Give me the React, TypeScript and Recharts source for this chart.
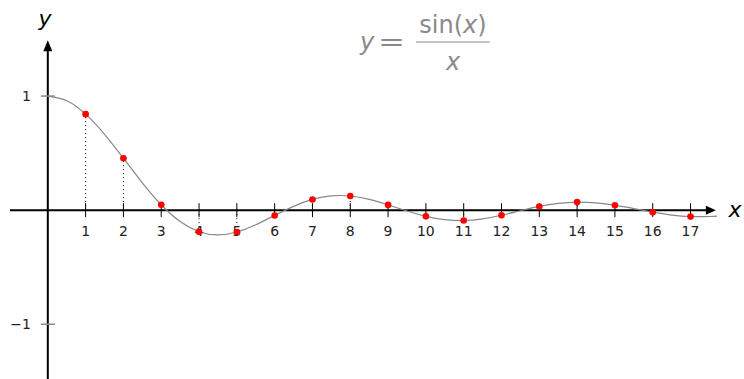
import {
    ComposedChart,
    Line,
    Scatter,
    XAxis,
    YAxis,
    ReferenceLine,
    ReferenceDot,
    Customized,
} from "recharts";

// samples of y = sin(x)/x
const curveX = [
    0, 0.5, 1, 1.5, 2, 2.5, 3, 3.5, 4, 4.5, 5, 5.5, 6, 6.5, 7, 7.5, 8, 8.5,
    9, 9.5, 10, 10.5, 11, 11.5, 12, 12.5, 13, 13.5, 14, 14.5, 15, 15.5, 16,
    16.5, 17, 17.5, 17.7,
];
const curveY = [
    1, 0.9589, 0.8415, 0.665, 0.4546, 0.2394, 0.047, -0.1002, -0.1892,
    -0.2172, -0.1918, -0.1283, -0.0466, 0.0331, 0.0939, 0.1251, 0.1237,
    0.0939, 0.0458, -0.0079, -0.0544, -0.0838, -0.0909, -0.0761, -0.0447,
    -0.0053, 0.0323, 0.0595, 0.0708, 0.0645, 0.0434, 0.0133, -0.018,
    -0.0431, -0.0566, -0.0557, -0.0516,
];

// red sample points at the integers
const sampleX = [1, 2, 3, 4, 5, 6, 7, 8, 9, 10, 11, 12, 13, 14, 15, 16, 17];
const sampleY = [
    0.8415, 0.4546, 0.047, -0.1892, -0.1918, -0.0466, 0.0939, 0.1237, 0.0458,
    -0.0544, -0.0909, -0.0447, 0.0323, 0.0708, 0.0434, -0.018, -0.0566,
];

const xTicks = sampleX;
const yTicks = [1, -1];
const yTickLabels = ["1", "\u22121"];

const X_DOMAIN: [number, number] = [-1, 17.7];
const Y_DOMAIN: [number, number] = [-1.48, 1.5];

const FONT = "'DejaVu Sans', sans-serif";
const GRAY = "#8a8a8a";

const curve = curveX.map((x, i) => ({ x, y: curveY[i] }));
const samples = sampleX.map((x, i) => ({ x, y: sampleY[i] }));

function XTick(props: any) {
    const { cx, cy, label } = props;
    return (
        <g>
            <line x1={cx} x2={cx} y1={cy - 7} y2={cy + 7} stroke="#000" strokeWidth={1} />
            <text x={cx} y={cy + 26} textAnchor="middle" fontSize={14} fontFamily={FONT} fill="#222">
                {label}
            </text>
        </g>
    );
}

function YTick(props: any) {
    const { cx, cy, label } = props;
    return (
        <g>
            <line x1={cx - 7} x2={cx + 7} y1={cy} y2={cy} stroke={GRAY} strokeWidth={1.5} />
            <text x={cx - 17} y={cy + 5} textAnchor="end" fontSize={14} fontFamily={FONT} fill="#222">
                {label}
            </text>
        </g>
    );
}

function ArrowRight(props: any) {
    const { cx, cy } = props;
    return <path d={`M${cx},${cy} L${cx - 10},${cy - 4.5} L${cx - 10},${cy + 4.5} Z`} fill="#000" />;
}

function ArrowUp(props: any) {
    const { cx, cy } = props;
    return <path d={`M${cx},${cy} L${cx - 4.5},${cy + 11} L${cx + 4.5},${cy + 11} Z`} fill="#000" />;
}

function RedDot(props: any) {
    const { cx, cy } = props;
    return <circle cx={cx} cy={cy} r={3.3} fill="#ff0000" />;
}

function Labels() {
    return (
        <g fontFamily={FONT}>
            <text x={45} y={26} textAnchor="middle" fontSize={22} fontStyle="italic" fill="#000">
                y
            </text>
            <text x={735} y={217} textAnchor="middle" fontSize={22} fontStyle="italic" fill="#000">
                x
            </text>
            <text x={367} y={50} textAnchor="middle" fontSize={24} fontStyle="italic" fill={GRAY}>
                y
            </text>
            <text x={378} y={50} fontSize={24} fill={GRAY} textLength={27} lengthAdjust="spacingAndGlyphs">
                =
            </text>
            <text x={453} y={33} textAnchor="middle" fontSize={24} fill={GRAY}>
                sin(<tspan fontStyle="italic">x</tspan>)
            </text>
            <line x1={416} x2={490} y1={42} y2={42} stroke={GRAY} strokeWidth={1.2} />
            <text x={453} y={70} textAnchor="middle" fontSize={24} fontStyle="italic" fill={GRAY}>
                x
            </text>
        </g>
    );
}

export default function App() {
    return (
        <div style={{ position: "absolute", left: 0, top: 0, width: 744, height: 379, background: "#fff" }}>
            <ComposedChart
                width={744}
                height={379}
                data={curve}
                margin={{ top: 39, right: 27, bottom: 0, left: 10 }}
            >
                <XAxis type="number" dataKey="x" domain={X_DOMAIN} hide allowDataOverflow />
                <YAxis type="number" domain={Y_DOMAIN} hide allowDataOverflow />

                {/* dotted drop lines */}
                {samples.map((p) => (
                    <ReferenceLine
                        key={`drop-${p.x}`}
                        segment={[{ x: p.x, y: 0 }, { x: p.x, y: p.y }]}
                        stroke="#000"
                        strokeWidth={1}
                        strokeDasharray="1 3"
                    />
                ))}

                {/* axes */}
                <ReferenceLine segment={[{ x: -1, y: 0 }, { x: 17.5, y: 0 }]} stroke="#000" strokeWidth={2} />
                <ReferenceLine segment={[{ x: 0, y: -1.48 }, { x: 0, y: 1.4 }]} stroke="#000" strokeWidth={2} />
                <ReferenceDot x={17.67} y={0} shape={ArrowRight} />
                <ReferenceDot x={0} y={1.49} shape={ArrowUp} />

                {xTicks.map((t) => (
                    <ReferenceDot key={`xt-${t}`} x={t} y={0} shape={(p: any) => <XTick {...p} label={String(t)} />} />
                ))}
                {yTicks.map((t, i) => (
                    <ReferenceDot key={`yt-${t}`} x={0} y={t} shape={(p: any) => <YTick {...p} label={yTickLabels[i]} />} />
                ))}

                <Line
                    dataKey="y"
                    type="natural"
                    stroke="#888"
                    strokeWidth={1.2}
                    dot={false}
                    activeDot={false}
                    isAnimationActive={false}
                />
                <Scatter data={samples} dataKey="y" shape={RedDot} isAnimationActive={false} />

                <Customized component={Labels} />
            </ComposedChart>
        </div>
    );
}
